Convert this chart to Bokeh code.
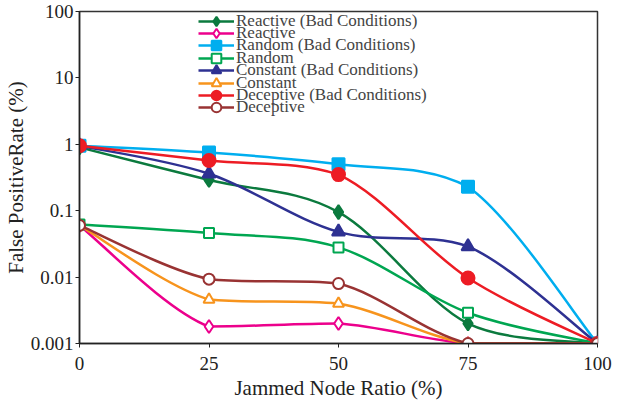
import numpy as np
from bokeh.plotting import figure
from bokeh.models import (FixedTicker, CustomJSTickFormatter, Legend, LegendItem,
                          ColumnDataSource, Range1d)
from bokeh.embed import file_html
from bokeh.resources import INLINE

x_vals = [0, 25, 50, 75, 100]
reactive_bad = [0.9, 0.29, 0.095, 0.002, 0.001]
reactive = [0.06, 0.0018, 0.002, 0.001, 0.001]
random_bad = [0.95, 0.75, 0.5, 0.23, 0.001]
random_ = [0.062, 0.046, 0.028, 0.0029, 0.001]
constant_bad = [0.95, 0.36, 0.048, 0.029, 0.001]
constant = [0.06, 0.0046, 0.004, 0.001, 0.001]
deceptive_bad = [0.95, 0.57, 0.35, 0.0097, 0.001]
deceptive = [0.06, 0.0093, 0.008, 0.001, 0.001]

labels = ["Reactive (Bad Conditions)", "Reactive", "Random (Bad Conditions)", "Random",
          "Constant (Bad Conditions)", "Constant", "Deceptive (Bad Conditions)", "Deceptive"]
series = [reactive_bad, reactive, random_bad, random_, constant_bad, constant, deceptive_bad, deceptive]
colors = ["#0b7a3e", "#ec008c", "#00aeef", "#00a651", "#2e3192", "#f7941d", "#ed1c24", "#993333"]
markers = ["diamond", "diamond", "square", "square", "triangle", "triangle", "circle", "circle"]
filled = [True, False, True, False, True, False, True, False]
sizes = [14, 13, 12, 10, 13, 11, 13, 11]

y_ticks = [0.001, 0.01, 0.1, 1, 10, 100]
x_ticks = [0, 25, 50, 75, 100]

FONT = "Liberation Serif"

p = figure(width=639, height=412, y_axis_type="log",
           x_range=Range1d(0, 100), y_range=Range1d(0.001, 100),
           output_backend="svg", toolbar_location=None,
           min_border_left=77, min_border_top=11, min_border_right=42, min_border_bottom=69)
p.xgrid.visible = False
p.ygrid.visible = False
p.outline_line_color = "#333333"
p.outline_line_width = 1.5


def smooth_segments(xs, ys):
    # Bezier control points (Catmull-Rom style, overshoot-limited) in (x, log10 y) space
    lx = np.array(xs, dtype=float)
    ly = np.log10(np.array(ys, dtype=float))
    n = len(lx)
    out = dict(x0=[], y0=[], x1=[], y1=[], cx0=[], cy0=[], cx1=[], cy1=[])
    for i in range(n - 1):
        i0 = max(i - 1, 0)
        i3 = min(i + 2, n - 1)
        lo, hi = min(ly[i], ly[i + 1]), max(ly[i], ly[i + 1])
        c0x = lx[i] + (lx[i + 1] - lx[i0]) / 6
        c0y = np.clip(ly[i] + (ly[i + 1] - ly[i0]) / 6, lo, hi)
        c1x = lx[i + 1] - (lx[i3] - lx[i]) / 6
        c1y = np.clip(ly[i + 1] - (ly[i3] - ly[i]) / 6, lo, hi)
        out["x0"].append(lx[i]); out["y0"].append(10 ** ly[i])
        out["x1"].append(lx[i + 1]); out["y1"].append(10 ** ly[i + 1])
        out["cx0"].append(c0x); out["cy0"].append(10 ** c0y)
        out["cx1"].append(c1x); out["cy1"].append(10 ** c1y)
    return out


FRAME_H = 412 - 11 - 69
ITEM_H = 24
first_center = 20.5   # screen y of first legend row
row_step = 12.4

for k, (lab, ys, col, mk, fl, sz) in enumerate(zip(labels, series, colors, markers, filled, sizes)):
    src = ColumnDataSource(smooth_segments(x_vals, ys))
    br = p.bezier(x0="x0", y0="y0", x1="x1", y1="y1", cx0="cx0", cy0="cy0",
                  cx1="cx1", cy1="cy1", source=src, line_color=col, line_width=2.5)
    sr = p.scatter(x_vals, ys, marker=mk, size=sz, line_color=col, line_width=2,
                   fill_color=col if fl else "white")
    yc = first_center + k * row_step - 11
    loc_y = FRAME_H - yc - ITEM_H / 2
    lg = Legend(items=[LegendItem(label=lab, renderers=[br, sr], index=0)],
                location=(119, loc_y), orientation="vertical",
                background_fill_alpha=0, border_line_color=None,
                label_text_font=FONT, label_text_font_size="17px",
                label_height=ITEM_H, glyph_height=ITEM_H,
                glyph_width=36, spacing=0, padding=0, margin=0, label_standoff=2)
    p.add_layout(lg)

p.yaxis.ticker = FixedTicker(ticks=y_ticks)
p.yaxis.formatter = CustomJSTickFormatter(code="return tick.toString();")
p.xaxis.ticker = FixedTicker(ticks=x_ticks)

for ax in (p.xaxis, p.yaxis):
    ax.axis_line_color = "#222222"
    ax.axis_line_width = 1.5
    ax.major_tick_line_color = "#222222"
    ax.major_tick_out = 4
    ax.major_tick_in = 0
    ax.minor_tick_line_color = None
    ax.major_label_text_font = FONT
    ax.major_label_text_font_size = "19px"
    ax.major_label_text_color = "#222222"
    ax.axis_label_text_font = FONT
    ax.axis_label_text_font_size = "21px"
    ax.axis_label_text_font_style = "normal"
    ax.axis_label_text_color = "#222222"

p.yaxis.major_label_standoff = 2
p.yaxis.axis_label_standoff = 0
p.xaxis.major_label_standoff = 9
p.xaxis.axis_label_standoff = 3
p.xaxis.axis_label = "Jammed Node Ratio (%)"
p.yaxis.axis_label = "False PositiveRate (%)"

open("out.html", "w").write(file_html(p, INLINE))
